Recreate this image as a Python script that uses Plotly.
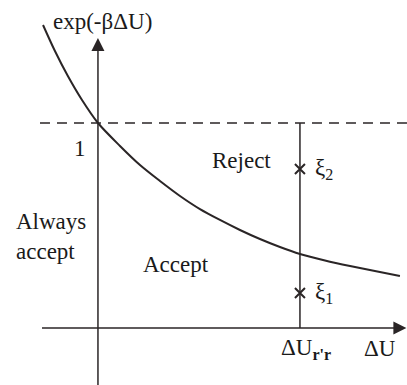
import plotly.graph_objects as go

# Acceptance curve exp(-beta*dU) sampled at a handful of energy differences
du_curve = [-0.272, -0.213, -0.149, -0.079, 0.0, 0.109, 0.208, 0.307, 0.406, 0.505,
            0.604, 0.703, 0.802, 0.901, 1.0, 1.124, 1.248, 1.371, 1.495]
p_curve = [1.478, 1.351, 1.229, 1.112, 1.0, 0.888, 0.795, 0.717, 0.644, 0.580,
           0.527, 0.478, 0.434, 0.395, 0.361, 0.329, 0.302, 0.278, 0.254]

threshold = 1.0          # probability ceiling
du_trial = 1.0           # energy difference of the trial move, dU_r'r
xi_values = [0.171, 0.776]  # uniform random numbers xi_1, xi_2
xi_labels = ["ξ<sub>1</sub>", "ξ<sub>2</sub>"]

INK = "#2a2526"
FONT = dict(family="Liberation Serif, Times New Roman, serif", size=23, color="#1a1a1a")

X_RANGE = [-0.485, 1.530]
Y_RANGE = [-0.278, 1.600]
Y_AXIS_TOP = 1.415
X_AXIS_LEFT, X_AXIS_RIGHT = -0.277, 1.527

fig = go.Figure()

# smooth acceptance curve
fig.add_trace(go.Scatter(
    x=du_curve, y=p_curve, mode="lines",
    line=dict(color=INK, width=2, shape="spline", smoothing=0.8),
    hoverinfo="skip", showlegend=False,
))

# random numbers drawn along the trial move
fig.add_trace(go.Scatter(
    x=[du_trial] * len(xi_values), y=xi_values, mode="markers",
    marker=dict(symbol="x-thin", size=10, line=dict(color=INK, width=2)),
    hoverinfo="skip", showlegend=False,
))

# arrowheads at the ends of both axes
fig.add_trace(go.Scatter(
    x=[0, X_AXIS_RIGHT], y=[Y_AXIS_TOP, 0], mode="markers",
    marker=dict(symbol=["arrow-up", "arrow-right"], size=13, color=INK,
                line=dict(width=0)),
    hoverinfo="skip", showlegend=False, cliponaxis=False,
))

shapes = [
    # y axis
    dict(type="line", xref="x", yref="y", x0=0, x1=0, y0=Y_RANGE[0], y1=Y_AXIS_TOP - 0.03,
         line=dict(color=INK, width=1.5)),
    # x axis
    dict(type="line", xref="x", yref="y", x0=X_AXIS_LEFT, x1=X_AXIS_RIGHT - 0.03, y0=0, y1=0,
         line=dict(color=INK, width=1.5)),
    # dashed ceiling at probability 1
    dict(type="line", xref="x", yref="y", x0=-0.287, x1=X_RANGE[1], y0=threshold, y1=threshold,
         line=dict(color=INK, width=1.6, dash="10px,7px")),
    # vertical segment at dU_r'r
    dict(type="line", xref="x", yref="y", x0=du_trial, x1=du_trial, y0=0, y1=threshold,
         line=dict(color=INK, width=1.5)),
]

annotations = []


def label(text, x, y, xanchor="center"):
    annotations.append(dict(x=x, y=y, xref="x", yref="y", text=text, showarrow=False,
                            xanchor=xanchor, yanchor="middle", font=FONT))


label("exp(-βΔU)", 0.02, 1.493)
label("1", -0.089, 0.878)
label("Reject", 0.713, 0.815)
label("Always", -0.416, 0.522, xanchor="left")
label("accept", -0.416, 0.375, xanchor="left")
label("Accept", 0.386, 0.312)
label("ΔU<sub><b>r'r</b></sub>", 0.896, -0.102, xanchor="left")
label("ΔU", 1.396, -0.102)
for v, t in zip(xi_values, xi_labels):
    label(t, 1.064, v, xanchor="left")

fig.update_layout(
    width=407, height=385,
    margin=dict(l=0, r=0, t=0, b=0),
    paper_bgcolor="white", plot_bgcolor="white",
    xaxis=dict(range=X_RANGE, visible=False, fixedrange=True),
    yaxis=dict(range=Y_RANGE, visible=False, fixedrange=True),
    shapes=shapes, annotations=annotations,
    showlegend=False,
)

fig.write_html("out.html")
